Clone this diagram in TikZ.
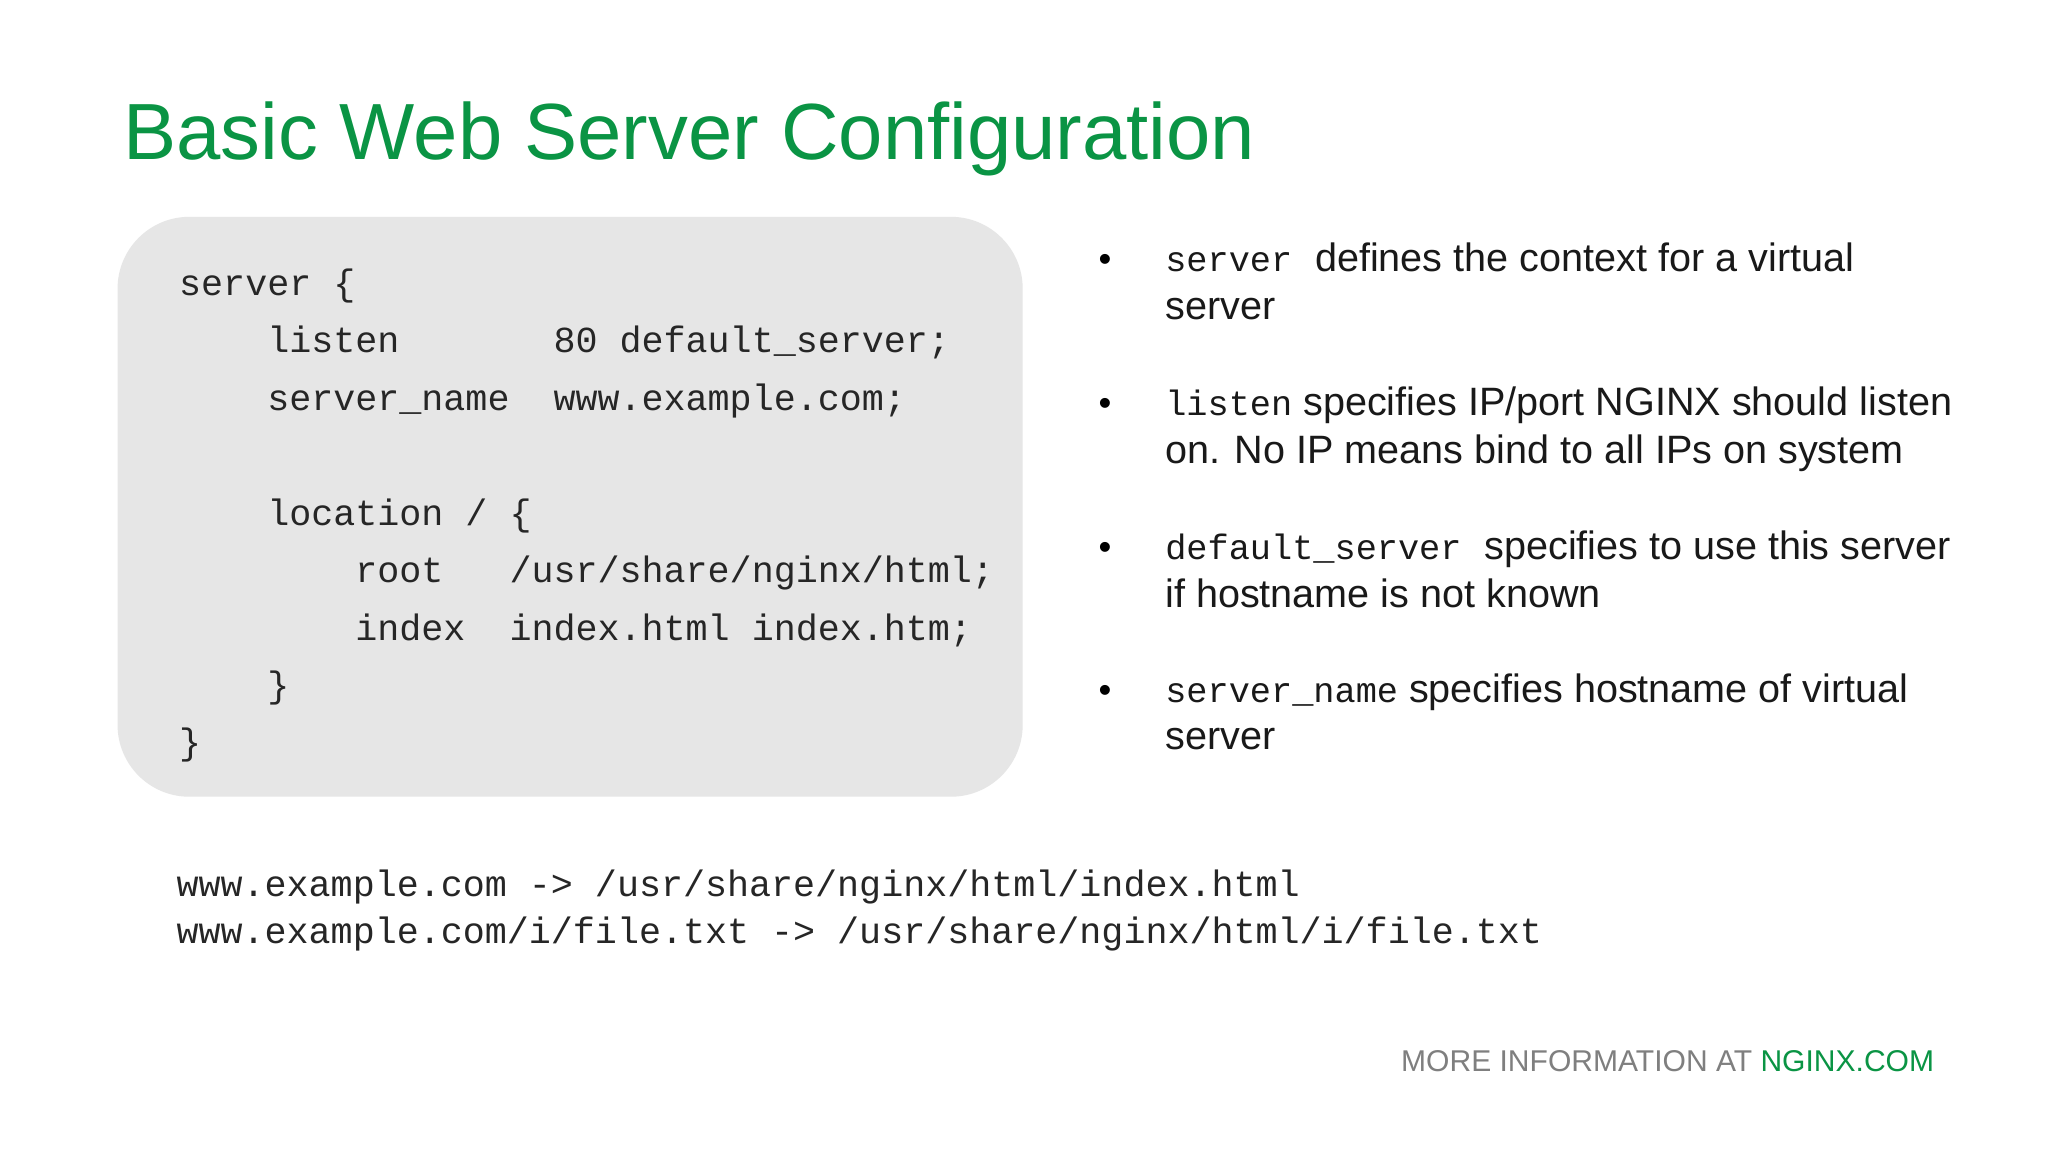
\documentclass[tikz,border=0pt]{standalone}
\usepackage{fontspec}
\setmainfont{Liberation Sans}
\setmonofont{Liberation Mono}
\definecolor{ngreen}{HTML}{0A9444}
\definecolor{boxgray}{HTML}{E6E6E6}
\definecolor{footgray}{HTML}{7F7F7F}
\begin{document}
\begin{tikzpicture}[x=1pt,y=-1pt,
  code/.style={anchor=base west,inner sep=0pt,font=\fontsize{28.1}{30}\ttfamily,text=black!85},
  btext/.style={anchor=base west,inner sep=0pt,font=\fontsize{30.3}{36}\selectfont,text=black!90},
  bdot/.style={anchor=base west,inner sep=0pt,font=\fontsize{28}{30}\selectfont}]
\useasboundingbox (0,0) rectangle (1568,882);
\fill[white] (0,0) rectangle (1568,882);
\node[anchor=base west,inner sep=0pt,text=ngreen,font=\fontsize{61}{66}\selectfont] (title) at (94,122) {Basic Web Server Configuration};
\fill[boxgray,rounded corners=55pt] (90,166) rectangle (783,610);
\def\cw{16.86}
\node[code] (l1) at (137,226) {server \{};
\node[code] (l2a) at (137+4*\cw,270) {listen};
\node[code] (l2b) at (137+17*\cw,270) {80 default\_server;};
\node[code] (l3a) at (137+4*\cw,314) {server\_name};
\node[code] (l3b) at (137+17*\cw,314) {www.example.com;};
\node[code] (l4) at (137+4*\cw,402) {location / \{};
\node[code] (l5a) at (137+8*\cw,446) {root};
\node[code] (l5b) at (137+15*\cw,446) {/usr/share/nginx/html;};
\node[code] (l6a) at (137+8*\cw,490) {index};
\node[code] (l6b) at (137+15*\cw,490) {index.html index.htm;};
\node[code] (l7) at (137+4*\cw,534) {\}};
\node[code] (l8) at (137,578) {\}};
\node[code] (m1) at (135,686) {www.example.com -> /usr/share/nginx/html/index.html};
\node[code] (m2) at (135,722) {www.example.com/i/file.txt -> /usr/share/nginx/html/i/file.txt};
\foreach \y/\n in {208/1,318/2,428/3,538/4} \node[bdot] (d\n) at (841,\y) {•};
\node[btext] (b1) at (892,208) {{\fontsize{27}{30}\ttfamily server}\hspace{0.3em} defines the context for a virtual};
\node[btext] (b1b) at (892,245) {server};
\node[btext] (b2) at (892,318) {{\fontsize{27}{30}\ttfamily listen} specifies IP/port NGINX should listen};
\node[btext] (b2b) at (892,355) {on. No IP means bind to all IPs on system};
\node[btext] (b3) at (892,428) {{\fontsize{27}{30}\ttfamily default\_server}\hspace{0.3em} specifies to use this server};
\node[btext] (b3b) at (892,465) {if hostname is not known};
\node[btext] (b4) at (892,538) {{\fontsize{27}{30}\ttfamily server\_name} specifies hostname of virtual};
\node[btext] (b4b) at (892,574) {server};
\node[anchor=base east,inner sep=0pt,font=\fontsize{23}{26}\selectfont,text=footgray] (foot) at (1481,820) {MORE INFORMATION AT \textcolor{ngreen}{NGINX.COM}};
\end{tikzpicture}
\end{document}
